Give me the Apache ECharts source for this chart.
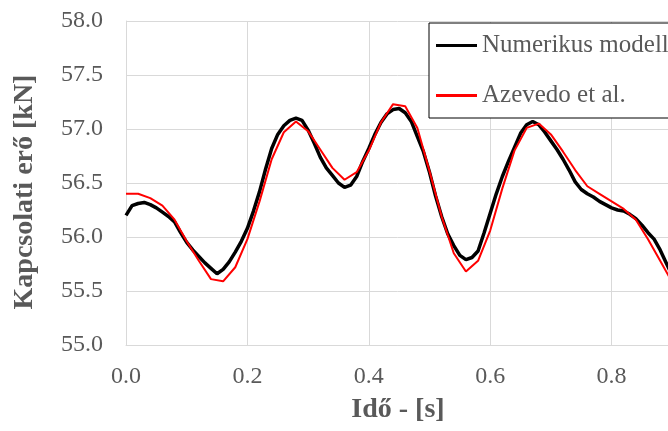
<!DOCTYPE html>
<html>
<head>
<meta charset="utf-8">
<script src="https://cdn.jsdelivr.net/npm/echarts@6/dist/echarts.min.js"></script>
<style>
  html, body { margin: 0; padding: 0; background: #fff; }
  #chart_01 { width: 668px; height: 431px; }
</style>
</head>
<body>
<div id="chart_01"></div>
<script>
// Numerikus modell - read every 0.01 s
var numTime = [0.00, 0.01, 0.02, 0.03, 0.04, 0.05, 0.06, 0.07, 0.08, 0.09,
  0.10, 0.11, 0.12, 0.13, 0.14, 0.15, 0.16, 0.17, 0.18, 0.19,
  0.20, 0.21, 0.22, 0.23, 0.24, 0.25, 0.26, 0.27, 0.28, 0.29,
  0.30, 0.31, 0.32, 0.33, 0.34, 0.35, 0.36, 0.37, 0.38, 0.39,
  0.40, 0.41, 0.42, 0.43, 0.44, 0.45, 0.46, 0.47, 0.48, 0.49,
  0.50, 0.51, 0.52, 0.53, 0.54, 0.55, 0.56, 0.57, 0.58, 0.59,
  0.60, 0.61, 0.62, 0.63, 0.64, 0.65, 0.66, 0.67, 0.68, 0.69,
  0.70, 0.71, 0.72, 0.73, 0.74, 0.75, 0.76, 0.77, 0.78, 0.79,
  0.80, 0.81, 0.82, 0.83, 0.84, 0.85, 0.86, 0.87, 0.88, 0.89,
  0.90, 0.91];
var numForce = [56.20, 56.29, 56.31, 56.32, 56.30, 56.27, 56.23, 56.19, 56.14, 56.04,
  55.95, 55.88, 55.82, 55.76, 55.71, 55.66, 55.70, 55.77, 55.86, 55.96,
  56.08, 56.24, 56.42, 56.63, 56.82, 56.95, 57.03, 57.08, 57.10, 57.08,
  56.99, 56.87, 56.74, 56.64, 56.57, 56.50, 56.46, 56.48, 56.56, 56.70,
  56.82, 56.95, 57.06, 57.14, 57.18, 57.19, 57.15, 57.07, 56.93, 56.79,
  56.60, 56.38, 56.19, 56.03, 55.92, 55.83, 55.79, 55.81, 55.87, 56.04,
  56.22, 56.40, 56.56, 56.70, 56.83, 56.96, 57.04, 57.07, 57.04, 56.97,
  56.89, 56.81, 56.72, 56.62, 56.51, 56.44, 56.40, 56.37, 56.33, 56.30,
  56.27, 56.25, 56.24, 56.21, 56.17, 56.11, 56.04, 55.98, 55.88, 55.76,
  55.64, 55.52];

// Azevedo et al. - polyline vertices every 0.02 s
var azTime = [0.00, 0.02, 0.04, 0.06, 0.08, 0.10, 0.12, 0.14, 0.16, 0.18,
  0.20, 0.22, 0.24, 0.26, 0.28, 0.30, 0.32, 0.34, 0.36, 0.38,
  0.40, 0.42, 0.44, 0.46, 0.48, 0.50, 0.52, 0.54, 0.56, 0.58,
  0.60, 0.62, 0.64, 0.66, 0.68, 0.70, 0.72, 0.74, 0.76, 0.78,
  0.80, 0.82, 0.84, 0.86, 0.88, 0.90, 0.92];
var azForce = [56.40, 56.40, 56.36, 56.29, 56.16, 55.96, 55.78, 55.61, 55.59, 55.72,
  55.98, 56.33, 56.72, 56.97, 57.07, 56.98, 56.81, 56.64, 56.53, 56.60,
  56.80, 57.06, 57.23, 57.21, 57.01, 56.61, 56.19, 55.85, 55.68, 55.78,
  56.06, 56.45, 56.80, 57.01, 57.05, 56.95, 56.79, 56.62, 56.47, 56.40,
  56.33, 56.26, 56.16, 55.98, 55.78, 55.58, 55.38];

var seriesNames = ['Numerikus modell', 'Azevedo et al.'];
var xTitle = 'Idő - [s]';
var yTitle = 'Kapcsolati erő [kN]';

function pairs(xs, ys) {
    var out = [];
    for (var i = 0; i < xs.length; i++) out.push([xs[i], ys[i]]);
    return out;
}

var FONT = '"Liberation Serif", "Times New Roman", serif';
var GRAY = '#595959';

var myChart_01 = echarts.init(document.getElementById('chart_01'));

var options = {
    animation: false,
    backgroundColor: '#fff',
    grid: { left: 126, top: 21, width: 607, height: 324, outerBoundsMode: 'none' },
    legend: {
        data: seriesNames,
        orient: 'vertical',
        left: 429,
        top: 23,
        padding: [10, 40, 10, 7],
        itemGap: 25,
        itemWidth: 41,
        itemHeight: 3,
        icon: 'rect',
        borderColor: '#000',
        borderWidth: 1,
        borderRadius: 0,
        backgroundColor: '#fff',
        textStyle: { fontFamily: FONT, fontSize: 25, color: GRAY, lineHeight: 25 }
    },
    xAxis: {
        type: 'value',
        min: 0,
        max: 1,
        interval: 0.2,
        axisLine: { lineStyle: { color: '#d9d9d9', width: 1 } },
        axisTick: { show: false },
        splitLine: { lineStyle: { color: '#d9d9d9', width: 1 } },
        axisLabel: {
            fontFamily: FONT, fontSize: 24, color: GRAY, margin: 20,
            formatter: function (v) { return v.toFixed(1); }
        }
    },
    yAxis: {
        type: 'value',
        min: 55,
        max: 58,
        interval: 0.5,
        axisLine: { show: true, lineStyle: { color: '#d9d9d9', width: 1 } },
        axisTick: { show: false },
        splitLine: { lineStyle: { color: '#d9d9d9', width: 1 } },
        axisLabel: {
            fontFamily: FONT, fontSize: 24, color: GRAY, margin: 23,
            formatter: function (v) { return v.toFixed(1); }
        }
    },
    graphic: [
        {
            type: 'text', x: 25, y: 192, rotation: Math.PI / 2,
            style: {
                text: yTitle, fill: GRAY, align: 'center', verticalAlign: 'middle',
                font: 'bold 28px ' + FONT
            }
        },
        {
            type: 'text', x: 398, y: 410,
            style: {
                text: xTitle, fill: GRAY, align: 'center', verticalAlign: 'middle',
                font: 'bold 28px ' + FONT
            }
        }
    ],
    series: [
        {
            name: seriesNames[0],
            type: 'line',
            data: pairs(numTime, numForce),
            symbol: 'none',
            color: '#000',
            lineStyle: { color: '#000', width: 3.5 },
            z: 2
        },
        {
            name: seriesNames[1],
            type: 'line',
            data: pairs(azTime, azForce),
            symbol: 'none',
            color: '#ff0000',
            lineStyle: { color: '#ff0000', width: 2 },
            z: 3
        }
    ]
};

myChart_01.setOption(options);
</script>
</body>
</html>
